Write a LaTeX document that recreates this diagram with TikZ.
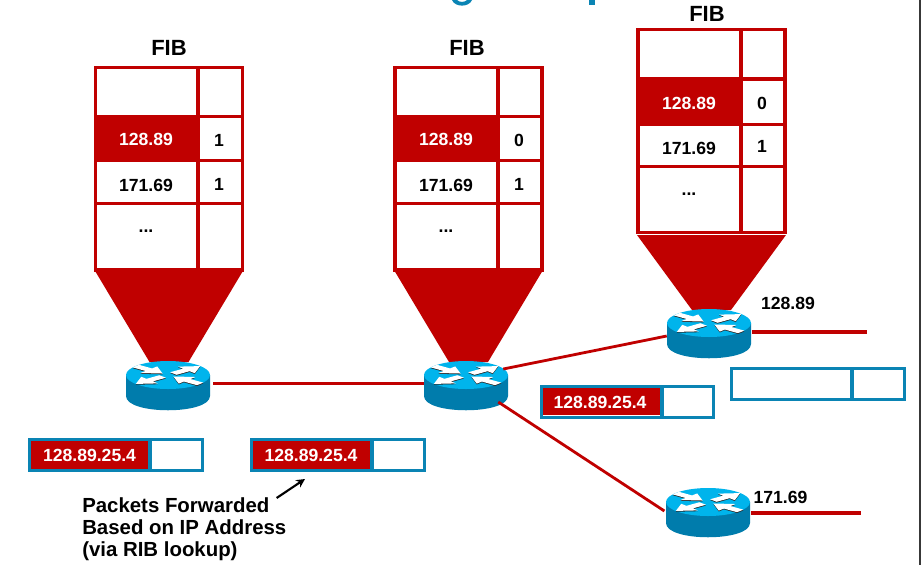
\documentclass[tikz,border=0pt]{standalone}
\usepackage{fontspec}
\setmainfont{Liberation Sans}
\usetikzlibrary{arrows.meta}
\definecolor{cred}{HTML}{C00000}
\definecolor{cblue}{HTML}{0A84B4}
\definecolor{rtop}{HTML}{00B4EC}
\definecolor{rbody}{HTML}{007CAC}
\tikzset{
  redline/.style={draw=cred,line width=2.3pt},
  link/.style={draw=cred,line width=2.1pt},
  hlink/.style={draw=cred,line width=2.4pt},
  pkt/.style={draw=cblue,line width=2.4pt},
  t17/.style={font=\fontsize{13.2}{15}\bfseries\selectfont,inner sep=0pt},
  tw/.style={t17,text=white},
  fib/.style={font=\fontsize{16.5}{18}\bfseries\selectfont,inner sep=0pt},
  rnode/.style={inner sep=0pt,minimum width=63pt,minimum height=36pt}
}
\newcommand{\arrowout}[1]{%
  \begin{scope}[rotate=#1]
    \fill (7,-5) -- (24,-5) -- (24,-13) -- (42,0) -- (24,13) -- (24,5) -- (7,5) -- cycle;
  \end{scope}}
\newcommand{\arrowin}[1]{%
  \begin{scope}[rotate=#1]
    \fill (42,-5) -- (25,-5) -- (25,-13) -- (7,0) -- (25,13) -- (25,5) -- (42,5) -- cycle;
  \end{scope}}
\newcommand{\router}[3]{%
  \fill[rbody] (#2-42,#3) -- (#2-42,#3+21) .. controls (#2-42,#3+40) and (#2+42,#3+40) .. (#2+42,#3+21) -- (#2+42,#3) -- cycle;
  \fill[rtop] (#2,#3) ellipse[x radius=42,y radius=14];
  \begin{scope}[shift={(#2,#3+.8)},yscale=.33,black!85]
    \arrowin{140}\arrowout{40}\arrowout{220}\arrowin{320}
  \end{scope}
  \begin{scope}[shift={(#2,#3)},yscale=.33,white]
    \arrowin{140}\arrowout{40}\arrowout{220}\arrowin{320}
  \end{scope}
  \node[rnode] (#1) at (#2,#3+10) {};
}
\newcommand{\fibtable}[8]{%
  \fill[cred] (#2+1,#6) rectangle (#5,#7);
  \draw[redline] (#2,#3) rectangle (#2+147,#4);
  \draw[redline] (#5,#3) -- (#5,#4);
  \draw[redline] (#2,#6) -- (#2+147,#6);
  \draw[redline] (#2,#7) -- (#2+147,#7);
  \draw[redline] (#2,#8) -- (#2+147,#8);
  \coordinate (#1) at (#2,#3);
}
\newcommand{\cone}[3]{%
  \fill[cred] (#1-1,#2) -- (#1+148,#2) -- (#1+93,#2+#3) -- (#1+54,#2+#3) -- cycle;
}
\newcommand{\packet}[4]{%
  \draw[pkt] (#1+1.5,#2+1.5) rectangle (#1+#4-1.5,#2+32.5);
  \draw[pkt] (#1+#3,#2) -- (#1+#3,#2+34);
}
\begin{document}
\begin{tikzpicture}[x=0.75pt,y=-0.75pt]
\useasboundingbox (0,0) rectangle (921,565);
\fill[white] (0,0) rectangle (921,565);
\fill[cblue] (452,0) .. controls (455,7.5) and (469,7.5) .. (472,0) -- (467,0) .. controls (465,2.5) and (459,2.5) .. (457,0) -- cycle;
\fill[cblue] (589,0) rectangle (595,5);
\fill[black!78] (919.3,0) rectangle (921,565);

\fibtable{tabA}{95.5}{67.5}{270}{198}{116.5}{160.4}{203.4}
\fibtable{tabB}{395}{67.5}{270}{498}{116.5}{160.4}{203.4}
\fibtable{tabC}{638}{29.5}{232.5}{741}{79}{124.4}{166.4}
\cone{95.5}{270}{92}
\cone{395}{270}{92}
\cone{638}{235}{75}

\node[fib] (fibA) at (169,47.5) {FIB};
\node[fib] (fibB) at (467,47.5) {FIB};
\node[fib] (fibC) at (707,14) {FIB};

\node[tw] (a1) at (146,139.5) {128.89};
\node[t17] (a2) at (146,185) {171.69};
\node[t17] (a3) at (146,231) {...};
\node[t17] (a4) at (219,140.5) {1};
\node[t17] (a5) at (219,184) {1};

\node[tw] (b1) at (446,139.5) {128.89};
\node[t17] (b2) at (446,185) {171.69};
\node[t17] (b3) at (446,231) {...};
\node[t17] (b4) at (519,140.5) {0};
\node[t17] (b5) at (519,184) {1};

\node[tw] (c1) at (689,103) {128.89};
\node[t17] (c2) at (689,148.5) {171.69};
\node[t17] (c3) at (689,194) {...};
\node[t17] (c4) at (762,103) {0};
\node[t17] (c5) at (762,146.5) {1};

\router{r1}{168}{375}
\router{r2}{466}{375}
\router{r3}{709}{323}
\router{r4}{708}{502}

\coordinate (e3) at (867,332);
\coordinate (e4) at (861,513);
\draw[hlink] (r1.east |- 0,383.4) ++(3,0) -- (r2.west |- 0,383.4);
\draw[link] (r2.east |- 0,369) ++(-5,0) -- (r3.west |- 0,336);
\draw[hlink] (r3.east |- e3) ++(1,0) -- (e3);
\draw[link] ([xshift=-7.5pt]r2.east |- 0,402) -- ([xshift=-1]r4.west |- 0,511);
\draw[hlink] (r4.east |- e4) ++(1,0) -- (e4);

\fill[cred] (31,441) rectangle (148,469);
\packet{28}{438}{122}{176}
\node[tw] (p1) at (89.5,455) {128.89.25.4};
\fill[cred] (253,441) rectangle (370,469);
\packet{250}{438}{122}{176}
\node[tw] (p2) at (311,455) {128.89.25.4};
\fill[cred] (543,388) rectangle (660,415);
\packet{540}{385}{122}{175}
\node[tw] (p3) at (600,402) {128.89.25.4};
\packet{730}{367}{122}{176}

\node[t17] (l1) at (788,303) {128.89};
\node[t17] (l2) at (780.5,497) {171.69};

\node[anchor=north west,align=left,inner sep=0pt,font=\fontsize{15.3}{16.5}\bfseries\selectfont] (note) at (82,497) {Packets Forwarded\\Based on IP Address\\(via RIB lookup)};
\coordinate (tipA) at (305,479);
\draw[black,line width=1.6pt,-{Stealth[length=6.5pt,width=6.5pt]}] (note.north east) ++(-10,1) -- (tipA);
\end{tikzpicture}
\end{document}
